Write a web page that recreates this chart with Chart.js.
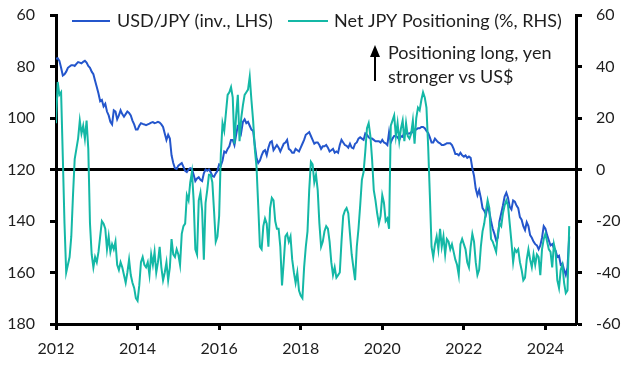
<!DOCTYPE html>
<html><head><meta charset="utf-8">
<script src="https://cdn.jsdelivr.net/npm/chart.js@4"></script>
<style>html,body{margin:0;padding:0;background:#fff}#wrap{width:632px;height:369px}</style>
</head><body><div id="wrap"><canvas id="c" width="632" height="369"></canvas></div>
<script>
// ---- data (semi-monthly readings, Jan 2012 .. early Aug 2024) ----
const startYear = 2012;
const periodsPerYear = 24;

const usdJpy = [
  77.0, 76.8, 77.8, 80.5, 83.5, 83.0, 82.0, 80.5, 80.0, 79.5, 79.5, 79.8, 79.0, 78.3, 78.5, 78.8, 78.2, 77.8, 78.5, 79.8, 80.5, 82.0, 83.0, 85.5,
  88.0, 90.5, 93.5, 93.0, 95.5, 94.5, 97.5, 99.0, 101.5, 102.5, 97.0, 97.5, 100.5, 99.0, 97.0, 98.5, 99.5, 98.5, 97.5, 98.0, 99.0, 101.0, 102.5, 104.5,
  104.5, 103.0, 102.0, 102.3, 102.5, 102.8, 102.5, 102.2, 101.8, 101.6, 102.0, 101.8, 101.5, 101.8, 102.5, 103.5, 106.0, 108.5, 106.5, 108.0, 114.5, 117.5, 119.5, 119.8,
  118.5, 118.0, 117.5, 119.0, 120.5, 121.0, 120.0, 119.5, 119.8, 122.0, 124.5, 123.5, 123.0, 124.0, 124.5, 121.5, 120.0, 120.5, 120.0, 121.0, 122.5, 122.8, 121.5, 120.5,
  118.0, 118.5, 116.5, 113.0, 113.5, 112.0, 111.0, 108.5, 108.5, 110.5, 106.5, 103.0, 102.5, 105.5, 101.5, 100.5, 102.0, 101.5, 103.0, 104.5, 105.0, 110.5, 115.5, 117.5,
  116.5, 114.5, 113.0, 112.5, 114.5, 111.5, 109.5, 109.0, 112.5, 111.5, 110.5, 111.5, 113.0, 111.5, 110.0, 109.5, 108.5, 112.0, 112.5, 113.5, 113.5, 112.0, 112.5, 113.0,
  111.5, 110.0, 108.5, 106.5, 106.0, 105.5, 107.0, 108.5, 110.0, 109.5, 109.5, 110.5, 112.0, 111.0, 111.0, 110.5, 111.5, 113.0, 112.5, 112.0, 113.5, 113.0, 113.5, 110.5,
  108.5, 109.5, 110.5, 110.8, 111.5, 110.0, 111.5, 111.8, 110.0, 109.5, 108.0, 107.5, 108.0, 108.5, 106.0, 106.5, 107.5, 108.0, 108.0, 108.5, 109.0, 109.0, 109.0, 109.5,
  108.5, 109.5, 109.8, 110.5, 105.5, 109.5, 108.0, 107.0, 107.0, 107.5, 108.5, 107.0, 107.3, 105.5, 106.0, 106.0, 106.0, 105.5, 105.5, 104.5, 104.5, 104.0, 104.0, 103.5,
  103.5, 104.0, 105.0, 105.8, 107.5, 109.5, 109.5, 108.0, 108.8, 109.5, 109.8, 110.5, 110.5, 110.2, 109.8, 109.8, 109.8, 110.5, 112.0, 114.0, 114.0, 114.5, 113.5, 114.5,
  115.0, 114.5, 115.5, 115.0, 115.5, 119.5, 122.5, 127.5, 130.0, 128.0, 131.0, 135.0, 136.0, 137.5, 134.0, 136.5, 140.0, 143.0, 145.0, 147.5, 146.5, 140.0, 137.0, 134.0,
  130.5, 129.0, 131.0, 134.5, 135.5, 132.0, 132.5, 134.0, 135.0, 138.5, 139.5, 142.0, 143.5, 140.5, 142.0, 145.5, 146.5, 148.0, 149.0, 149.5, 151.0, 149.5, 146.5, 142.0,
  143.0, 145.5, 147.5, 149.5, 149.0, 150.5, 151.5, 154.0, 153.5, 157.0, 156.5, 159.0, 161.0, 158.0, 146.0
];

const netJpyPositioning = [
  18, 34, 29, 30, 5, -21, -40, -37, -34, -26, -10, 4, 8, 12, 19, 14, 17, 12, 19, 8, -21, -33, -38, -34,
  -36, -32, -26, -20, -21, -23, -31, -26, -32, -29, -31, -28, -37, -39, -36, -38, -41, -44, -40, -35, -41, -44, -46, -50,
  -51, -45, -36, -34, -37, -38, -36, -41, -33, -37, -32, -40, -36, -30, -38, -43, -40, -36, -43, -38, -27, -33, -34, -31,
  -33, -37, -25, -22, -21, -10, -12, -5, -1, -12, -31, -33, -12, -9, -16, -35, -13, -8, -2, -2, -5, -16, -28, -26,
  -18, 6, 18, 15, 22, 29, 30, 32, 28, 10, 21, 29, 11, 20, 25, 29, 30, 31, 36, 27, 19, 8, 1, -14,
  -30, -31, -22, -19, -21, -30, -15, -11, -12, -20, -23, -23, -30, -45, -36, -26, -25, -28, -26, -35, -40, -44, -40, -47,
  -49, -50, -38, -30, -24, -8, 3, 2, -5, -2, -8, -21, -30, -28, -24, -22, -23, -28, -36, -41, -38, -42, -41, -40,
  -28, -18, -16, -15, -17, -25, -33, -38, -43, -30, -23, -14, -4, -1, 7, 16, 18, 13, 4, -8, -12, -17, -21, -18,
  -10, -13, -20, -19, -23, 17, 19, 21, 13, 18, 11, 16, 19, 11, 18, 13, 12, 14, 19, 10, 20, 24, 23, 27,
  30, 28, 24, 9, -10, -30, -34, -29, -26, -31, -23, -30, -26, -33, -27, -28, -31, -29, -32, -35, -37, -41, -29, -27,
  -29, -31, -36, -38, -30, -25, -28, -36, -41, -39, -30, -24, -21, -16, -12, -15, -27, -28, -30, -32, -25, -21, -22, -17,
  -14, -12, -14, -21, -28, -36, -31, -32, -31, -36, -39, -43, -42, -35, -31, -35, -38, -33, -37, -33, -34, -41, -31, -27,
  -25, -28, -31, -32, -38, -29, -32, -43, -46, -39, -37, -44, -48, -47, -22
];

const xTicks = [2012, 2014, 2016, 2018, 2020, 2022, 2024];
const leftTicks = [60, 80, 100, 120, 140, 160, 180];
const rightTicks = [60, 40, 20, 0, -20, -40, -60];
const seriesNames = ['USD/JPY (inv., LHS)', 'Net JPY Positioning (%, RHS)'];
const noteLines = ['Positioning long, yen', 'stronger vs US$'];

// ---- build ----
const BLUE = '#2456cc';
const TEAL = '#14b8a6';
const TXT = '#1e1e1e';
const dates = usdJpy.map((_, i) => startYear + i / periodsPerYear);
const toPts = arr => arr.map((v, i) => ({ x: dates[i], y: v }));

Chart.defaults.font.family = 'Lato, "Open Sans", sans-serif';
Chart.defaults.font.size = 16;
Chart.defaults.color = TXT;

const overlay = {
  id: 'overlay',
  afterDraw(chart) {
    const ctx = chart.ctx;
    ctx.save();
    ctx.font = '18px Lato, "Open Sans", sans-serif';
    ctx.fillStyle = TXT;
    ctx.textBaseline = 'middle';
    ctx.textAlign = 'left';
    ctx.lineWidth = 2;
    // legend
    ctx.strokeStyle = BLUE;
    ctx.beginPath(); ctx.moveTo(72, 21); ctx.lineTo(110, 21); ctx.stroke();
    ctx.fillText(seriesNames[0], 117, 21);
    ctx.strokeStyle = TEAL;
    ctx.beginPath(); ctx.moveTo(288, 21); ctx.lineTo(328, 21); ctx.stroke();
    ctx.fillText(seriesNames[1], 334, 21);
    // annotation
    ctx.strokeStyle = '#000';
    ctx.fillStyle = '#000';
    ctx.beginPath(); ctx.moveTo(375, 81); ctx.lineTo(375, 55); ctx.stroke();
    ctx.beginPath(); ctx.moveTo(375, 45); ctx.lineTo(370, 57); ctx.lineTo(380, 57); ctx.closePath(); ctx.fill();
    ctx.fillStyle = TXT;
    ctx.fillText(noteLines[0], 388, 53);
    ctx.fillText(noteLines[1], 388, 77);
    ctx.restore();
  }
};

const fitY = s => { s.width = 56; s.paddingTop = 0; s.paddingBottom = 0; };

new Chart(document.getElementById('c'), {
  type: 'line',
  data: {
    datasets: [
      { label: seriesNames[0], data: toPts(usdJpy), yAxisID: 'yL', borderColor: BLUE, borderWidth: 2, pointRadius: 0, order: 1 },
      { label: seriesNames[1], data: toPts(netJpyPositioning), yAxisID: 'yR', borderColor: TEAL, borderWidth: 2, pointRadius: 0, order: 0 }
    ]
  },
  options: {
    responsive: false,
    devicePixelRatio: 1,
    animation: false,
    layout: { padding: { top: 15, left: 0, right: 0, bottom: 0 } },
    plugins: { legend: { display: false }, tooltip: { enabled: false } },
    scales: {
      x: {
        type: 'linear', min: 2012, max: 2024.75,
        afterBuildTicks: s => { s.ticks = xTicks.map(v => ({ value: v })); },
        afterFit: s => { s.height = 45; },
        ticks: { callback: v => String(v), autoSkip: false, maxRotation: 0, padding: 9, color: TXT },
        grid: { drawOnChartArea: false, tickLength: 6, tickColor: '#000', tickWidth: 3 },
        border: { display: true, color: '#000', width: 3 }
      },
      yL: {
        position: 'left', min: 60, max: 180, reverse: true,
        afterBuildTicks: s => { s.ticks = leftTicks.map(v => ({ value: v })); },
        afterFit: fitY,
        ticks: { padding: 15, color: TXT },
        grid: {
          drawOnChartArea: true,
          color: c => (c.tick && c.tick.value === 120 ? '#000' : 'rgba(0,0,0,0)'),
          lineWidth: 3, tickLength: 6, tickColor: '#000', tickWidth: 3
        },
        border: { display: true, color: '#000', width: 3 }
      },
      yR: {
        position: 'right', min: -60, max: 60,
        afterBuildTicks: s => { s.ticks = rightTicks.map(v => ({ value: v })); },
        afterFit: fitY,
        ticks: { padding: 14, color: TXT },
        grid: { drawOnChartArea: false, tickLength: 6, tickColor: '#000', tickWidth: 3 },
        border: { display: true, color: '#000', width: 3 }
      }
    }
  },
  plugins: [overlay]
});
</script></body></html>
